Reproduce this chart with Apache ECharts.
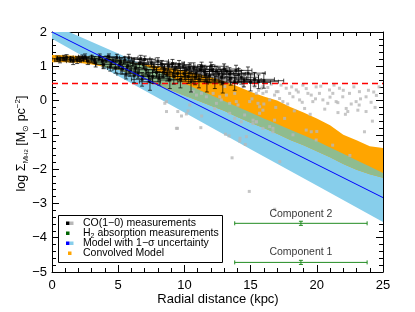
<!DOCTYPE html>
<html><head><meta charset="utf-8">
<script src="https://cdn.jsdelivr.net/npm/echarts@6/dist/echarts.min.js"></script>
<style>html,body{margin:0;padding:0;background:#fff}#c{width:415px;height:312px}</style>
</head><body><div id="c"></div><script>
const FONT = '"Liberation Sans", Arial, sans-serif';

// ---- data ----
const xRange = [0, 25];
const yRange = [-5, 2];
const xTickStep = 5;
const yTickStep = 1;

// model line
const modelX = [0, 25];
const modelY = [2.00, -2.83];

// model 1-sigma band
const bandX = [0, 5, 10, 15, 20, 25];
const bandUpper = [2.22, 1.37, 0.50, -0.35, -1.18, -2.11];
const bandLower = [1.80, 0.72, -0.35, -1.42, -2.48, -3.54];

// convolved model band
const convX = [0, 1, 2, 3, 4, 5, 6, 7, 8, 9, 10, 11, 12, 13, 14, 15, 16, 17, 18, 19, 20, 21, 22, 23, 24, 25];
const convTop = [1.33, 1.32, 1.30, 1.28, 1.25, 1.20, 1.12, 1.06, 1.00, 0.94, 0.88, 0.78, 0.68, 0.56, 0.42, 0.26, 0.12, 0.00, -0.19, -0.35, -0.52, -0.72, -1.00, -1.16, -1.33, -1.38];
const convBottom = [1.12, 1.12, 1.10, 1.05, 0.98, 0.90, 0.78, 0.62, 0.45, 0.30, 0.15, 0.00, -0.15, -0.30, -0.48, -0.65, -0.80, -0.97, -1.15, -1.30, -1.48, -1.65, -1.85, -2.02, -2.15, -2.25];

// overlap of model band and convolved model
const overlapX = [2.4, 3, 4, 5, 6, 7, 8, 9, 10, 11, 12, 13, 14, 15, 16, 17, 18, 19, 20, 21, 22, 23, 24, 25];
const overlapTop = [1.29, 1.28, 1.25, 1.20, 1.12, 1.02, 0.85, 0.67, 0.50, 0.33, 0.16, -0.01, -0.18, -0.35, -0.52, -0.68, -0.85, -1.01, -1.18, -1.37, -1.55, -1.74, -1.92, -2.11];
const overlapBottom = [1.28, 1.15, 0.98, 0.90, 0.78, 0.62, 0.45, 0.30, 0.15, 0.00, -0.15, -0.30, -0.48, -0.65, -0.80, -0.97, -1.15, -1.30, -1.48, -1.65, -1.85, -2.02, -2.15, -2.25];

// CO(1-0) measurements, grey
const grayX = [8.65, 9.50, 9.78, 10.15, 9.48, 11.24, 13.6, 14.9, 16.82, 17.2, 13.1, 13.37, 14.6, 14.2, 8.65, 10.28,
  13.17, 13.8, 14.43, 13.42, 14.05, 14.93, 15.43, 16.19, 16.44, 15.94, 16.94, 12.67, 12.17, 11.66, 11.29, 10.91, 12.42, 13.05,
  15.68, 15.18, 14.55, 14.3, 15.43, 16.44, 16.69, 14.68, 14.18, 10.41, 13.42, 13.8, 12.29, 8.52, 10.66, 12.79, 13.92,
  15.31, 15.81, 15.93, 15.56, 15.68, 15.93, 16.56, 16.81, 17.07, 17.19, 17.44, 17.69, 17.95, 18.2, 18.45, 18.7, 18.95,
  19.08, 19.33, 19.58, 19.7, 19.95, 20.2, 20.46, 20.83, 20.96, 21.21, 21.46, 21.71, 21.96, 22.22, 22.34, 22.47, 22.97,
  23.1, 23.22, 23.6, 23.72, 23.72, 19.58, 19.2, 16.81, 17.57, 16.69, 15.93, 15.43, 15.18,
  23.2, 24.1, 24.3, 22.16, 21.59, 19.95, 24.5, 24.2, 9.4, 11.3,
  15.1, 15.6, 16.0, 16.3, 16.9, 17.3, 17.8, 18.1, 18.3, 18.6, 18.9, 19.2, 19.5, 19.9, 20.3, 20.6, 21.0, 21.3, 21.6, 22.0,
  22.6, 22.8, 23.3, 23.9, 24.4, 24.7, 20.0, 21.2, 18.2, 22.5];
const grayY = [-0.32, -0.32, -0.45, -0.39, -0.81, -0.79, -1.67, -2.65, -3.17, -1.78, -0.98, -1.03, -1.28, -1.10, -0.03, -0.30,
  0.16, 0.21, 0.41, -0.08, -0.13, -0.03, 0.21, 0.26, 0.02, 0.41, 0.26, 0.11, 0.21, 0.11, 0.21, 0.16, -0.08, 0.41,
  -0.37, -0.57, -0.42, -0.62, -0.62, -0.76, -0.91, -1.05, -1.18, -0.13, -0.37, -0.52, -0.23, -0.08, 0.26, 0.02, -0.03,
  0.40, 0.36, 0.21, -0.08, -0.18, -0.28, 0.48, 0.16, 0.26, 0.06, -0.03, 0.36, 0.21, 0.11, 0.31, 0.02, 0.45,
  -0.23, 0.21, 0.16, -0.03, 0.40, 0.21, 0.02, -0.08, 0.31, 0.21, -0.03, 0.36, 0.11, -0.23, -0.32, 0.21, -0.03,
  -0.28, 0.26, -0.91, 0.11, -0.32, -0.91, -0.86, -0.57, -0.52, -0.81, -0.81, -0.62, -0.67,
  -0.13, -0.05, 0.25, -0.40, -0.06, -1.15, 0.15, -0.60, -0.81, -0.45,
  0.05, 0.30, -0.10, 0.38, -0.20, 0.45, -0.10, 0.40, -0.30, 0.25, -0.05, 0.35, -0.40, 0.05, 0.42, -0.25, 0.10, 0.45, -0.35, 0.30,
  -0.10, 0.40, 0.05, 0.30, -0.20, 0.40, -0.90, -1.30, -1.00, -1.60];

// CO(1-0) measurements, black with error bars
const coX = [0.4, 0.9, 1.4, 1.9, 2.3, 2.7, 3.0, 3.3, 3.6, 3.9, 4.1, 4.4, 4.6, 4.9, 5.1, 5.3, 5.5, 5.6, 5.7, 5.9, 6.1, 6.3, 6.5, 6.7, 6.8, 6.9,
  7.1, 7.3, 7.4, 7.5, 7.7, 7.9, 8.1, 8.3, 8.5, 8.7, 8.9, 9.1, 9.3, 9.5, 9.7, 9.9, 10.1, 10.3, 10.5, 10.7, 10.9, 11.1, 11.3, 11.5,
  11.7, 11.9, 12.1, 12.3, 12.6, 12.9, 13.2, 13.5, 13.8, 14.1, 14.5, 15.0, 15.6,
  0.6, 1.1, 1.6, 2.1, 2.5, 3.2, 3.8, 4.3, 4.8, 5.2, 5.8, 6.2, 6.6, 7.0, 7.6, 8.0, 8.4, 8.8, 9.2, 9.6, 10.0, 10.4, 10.8, 11.2, 11.6,
  12.0, 12.4, 12.8, 13.0, 13.4, 13.9, 14.3, 14.8, 15.3, 16.0];
const coY = [1.22, 1.24, 1.20, 1.18, 1.25, 1.15, 1.22, 1.10, 1.28, 1.05, 1.20, 0.98, 1.15, 1.25, 1.05, 0.92, 1.18, 0.78, 1.00, 0.86, 1.12, 0.95, 0.80, 1.22, 0.62, 1.05,
  0.90, 0.72, 0.55, 1.10, 0.98, 0.82, 0.65, 1.05, 0.90, 0.75, 0.60, 1.08, 0.95, 0.80, 0.62, 1.00, 0.88, 0.70, 0.55, 0.95, 0.80, 0.62, 1.00, 0.85,
  0.55, 0.72, 0.90, 0.60, 0.78, 0.52, 0.85, 0.65, 0.55, 0.75, 0.60, 0.53, 0.55,
  1.18, 1.26, 1.15, 1.22, 1.28, 1.18, 1.15, 1.28, 0.95, 1.12, 1.25, 0.72, 1.08, 1.20, 0.70, 1.15, 0.82, 1.00, 0.70, 1.05, 0.78, 0.95, 0.68, 0.90, 0.75,
  1.00, 0.85, 0.68, 0.92, 0.78, 0.88, 0.68, 0.80, 0.62, 0.58];
const coXErr = [0.4, 0.5, 0.5, 0.5, 0.5, 0.5, 0.6, 0.5, 0.6, 0.6, 0.6, 0.6, 0.6, 0.6, 0.7, 0.7, 0.7, 0.7, 0.7, 0.7, 0.7, 0.7, 0.7, 0.7, 0.8, 0.8,
  0.8, 0.8, 0.8, 0.8, 0.8, 0.8, 0.8, 0.8, 0.8, 0.8, 0.9, 0.9, 0.9, 0.9, 0.9, 0.9, 0.9, 1.0, 1.0, 1.0, 1.0, 1.0, 1.0, 1.0,
  1.0, 1.0, 1.0, 1.1, 1.1, 1.1, 1.1, 1.2, 1.2, 1.2, 1.3, 1.5, 1.5,
  0.4, 0.5, 0.5, 0.5, 0.5, 0.6, 0.6, 0.6, 0.6, 0.7, 0.7, 0.7, 0.7, 0.8, 0.8, 0.8, 0.8, 0.8, 0.9, 0.9, 0.9, 1.0, 1.0, 1.0, 1.0,
  1.0, 1.1, 1.1, 1.1, 1.2, 1.2, 1.3, 1.3, 1.5, 1.5];
const coYErr = [0.08, 0.08, 0.08, 0.10, 0.08, 0.10, 0.10, 0.12, 0.08, 0.12, 0.10, 0.12, 0.10, 0.10, 0.12, 0.15, 0.10, 0.15, 0.12, 0.15, 0.10, 0.12, 0.15, 0.10, 0.20, 0.12,
  0.15, 0.18, 0.25, 0.12, 0.12, 0.15, 0.20, 0.12, 0.15, 0.18, 0.25, 0.12, 0.15, 0.18, 0.25, 0.12, 0.15, 0.20, 0.30, 0.15, 0.18, 0.25, 0.12, 0.18,
  0.30, 0.20, 0.15, 0.25, 0.18, 0.30, 0.15, 0.20, 0.25, 0.18, 0.20, 0.25, 0.20,
  0.08, 0.08, 0.10, 0.08, 0.08, 0.10, 0.10, 0.08, 0.15, 0.10, 0.10, 0.20, 0.12, 0.10, 0.20, 0.10, 0.15, 0.12, 0.22, 0.12, 0.18, 0.15, 0.22, 0.15, 0.20,
  0.12, 0.15, 0.22, 0.15, 0.18, 0.15, 0.20, 0.18, 0.20, 0.22];

// detection threshold
const thresholdY = 0.5;

// H2 absorption components
const compNames = ['Component 1', 'Component 2'];
const compX = [18.8, 18.8];
const compY = [-4.72, -3.58];
const compXLo = [13.8, 13.8];
const compXHi = [23.8, 23.8];
const compYErr = [0.06, 0.06];
const compLabelY = [-4.42, -3.32];

// ---- chart ----
const chart = echarts.init(document.getElementById('c'), null, {renderer: 'canvas'});
const fmt = v => String(v).replace('-', '\u2212');

function bandSeries(xs, top, bot, color) {
  const data = xs.map((x, i) => [x, top[i], bot[i]]);
  return {
    type: 'custom', data, silent: true, clip: true, animation: false,
    encode: {x: 0, y: [1, 2]},
    renderItem(params, api) {
      if (params.dataIndex !== 0) return null;
      const pts = [];
      for (let i = 0; i < data.length; i++) pts.push(api.coord([data[i][0], data[i][1]]));
      for (let i = data.length - 1; i >= 0; i--) pts.push(api.coord([data[i][0], data[i][2]]));
      return {type: 'polygon', shape: {points: pts}, style: {fill: color}};
    }
  };
}

function errSeries(data, color, cap, lw) {
  return {
    type: 'custom', data, silent: true, clip: true, animation: false,
    encode: {x: 0, y: 1},
    renderItem(params, api) {
      const x = api.value(0), y = api.value(1), xl = api.value(2), xh = api.value(3), ye = api.value(4);
      const l = api.coord([xl, y]), r = api.coord([xh, y]);
      const t = api.coord([x, y + ye]), b = api.coord([x, y - ye]);
      const st = {stroke: color, lineWidth: lw};
      const L = (x1, y1, x2, y2) => ({type: 'line', shape: {x1, y1, x2, y2}, style: st});
      return {type: 'group', children: [
        L(l[0], l[1], r[0], r[1]),
        L(t[0], t[1], b[0], b[1]),
        L(l[0], l[1] - cap, l[0], l[1] + cap),
        L(r[0], r[1] - cap, r[0], r[1] + cap),
        L(t[0] - cap, t[1], t[0] + cap, t[1]),
        L(b[0] - cap, b[1], b[0] + cap, b[1])
      ]};
    }
  };
}

const coErrData = coX.map((x, i) => [x, coY[i], x - coXErr[i], x + coXErr[i], coYErr[i]]);
const compErrData = compX.map((x, i) => [x, compY[i], compXLo[i], compXHi[i], compYErr[i]]);

const axisCommon = {
  type: 'value',
  axisLine: {show: true, onZero: false, lineStyle: {color: '#000', width: 1}},
  axisTick: {show: true, inside: true, length: 7, lineStyle: {color: '#000', width: 1}},
  minorTick: {show: true, splitNumber: 5, length: 4, lineStyle: {color: '#000', width: 1}},
  splitLine: {show: false},
  minorSplitLine: {show: false}
};
const labelStyle = {color: '#000', fontSize: 13, fontFamily: FONT, formatter: fmt};

const option = {
  animation: false,
  backgroundColor: '#fff',
  grid: {left: 52, right: 32, top: 32, bottom: 40},
  xAxis: [
    Object.assign({}, axisCommon, {min: xRange[0], max: xRange[1], interval: xTickStep, position: 'bottom',
      axisLabel: Object.assign({margin: 7}, labelStyle)}),
    Object.assign({}, axisCommon, {min: xRange[0], max: xRange[1], interval: xTickStep, position: 'top',
      axisLabel: {show: false}})
  ],
  yAxis: [
    Object.assign({}, axisCommon, {min: yRange[0], max: yRange[1], interval: yTickStep, position: 'left',
      axisLabel: Object.assign({margin: 5}, labelStyle)}),
    Object.assign({}, axisCommon, {min: yRange[0], max: yRange[1], interval: yTickStep, position: 'right',
      axisLabel: {show: false}})
  ],
  series: [
    Object.assign(bandSeries(bandX, bandUpper, bandLower, '#87ceeb'), {z: 1}),
    Object.assign(bandSeries(convX, convTop, convBottom, '#ffa500'), {z: 2}),
    Object.assign(bandSeries(overlapX, overlapTop, overlapBottom, '#8fbc8f'), {z: 3}),
    {type: 'scatter', z: 4, silent: true, symbol: 'rect', symbolSize: 3,
      itemStyle: {color: '#b8b8b8'}, data: grayX.map((x, i) => [x, grayY[i]])},
    {type: 'line', z: 5, silent: true, symbol: 'none', data: [[xRange[0], thresholdY], [xRange[1], thresholdY]],
      lineStyle: {color: '#ff0000', width: 1.5, type: [6, 4]}},
    Object.assign(errSeries(coErrData, 'rgba(0,0,0,0.7)', 2, 1), {z: 6}),
    {type: 'scatter', z: 7, silent: true, symbol: 'rect', symbolSize: 3,
      itemStyle: {color: '#000'}, data: coX.map((x, i) => [x, coY[i]])},
    {type: 'line', z: 8, silent: true, symbol: 'none', data: modelX.map((x, i) => [x, modelY[i]]),
      lineStyle: {color: '#0000ff', width: 1}},
    Object.assign(errSeries(compErrData, '#228b22', 2, 1), {z: 9}),
    {type: 'scatter', z: 9, silent: true, symbolSize: 0,
      data: compX.map((x, i) => [x, compLabelY[i], compNames[i]]),
      label: {show: true, position: 'inside', formatter: p => p.value[2], color: '#000', fontSize: 10.5, fontFamily: FONT}}
  ],
  graphic: [
    {type: 'text', x: 21.5, y: 143.5, rotation: Math.PI / 2, z: 100,
      style: {
        text: '{n|log \u03a3}{s|M}{ss|H2}{n| [M}{s|\u2299}{n| pc}{p|\u22122}{n|]}',
        align: 'center', verticalAlign: 'middle', fill: '#000', font: '12px ' + FONT,
        rich: {
          n: {fontSize: 12.5, fontFamily: FONT, lineHeight: 16, verticalAlign: 'middle'},
          s: {fontSize: 8, fontFamily: FONT, lineHeight: 16, verticalAlign: 'bottom'},
          ss: {fontSize: 6, fontFamily: FONT, lineHeight: 16, verticalAlign: 'bottom'},
          p: {fontSize: 8, fontFamily: FONT, lineHeight: 16, verticalAlign: 'top'}
        }
      }},
    {type: 'text', x: 218, y: 299, z: 100,
      style: {text: 'Radial distance (kpc)', align: 'center', verticalAlign: 'middle', fill: '#000', font: '13px ' + FONT}},
    // legend
    {type: 'rect', z: 100, shape: {x: 58.5, y: 215.5, width: 164, height: 47},
      style: {fill: '#fff', stroke: '#000', lineWidth: 1}},
    {type: 'rect', z: 101, shape: {x: 66, y: 221.5, width: 3.5, height: 3.5}, style: {fill: '#000'}},
    {type: 'rect', z: 101, shape: {x: 70, y: 221.5, width: 3.5, height: 3.5}, style: {fill: '#b8b8b8'}},
    {type: 'rect', z: 101, shape: {x: 66, y: 231.5, width: 3.5, height: 3.5}, style: {fill: '#006400'}},
    {type: 'rect', z: 101, shape: {x: 66, y: 241.5, width: 3.5, height: 3.5}, style: {fill: '#0000ff'}},
    {type: 'rect', z: 101, shape: {x: 70, y: 241.5, width: 3.5, height: 3.5}, style: {fill: '#87ceeb'}},
    {type: 'rect', z: 101, shape: {x: 68, y: 251.5, width: 3.5, height: 3.5}, style: {fill: '#ffa500'}},
    {type: 'text', z: 101, x: 83, y: 223.3, style: {text: 'CO(1\u22120) measurements', verticalAlign: 'middle', fill: '#000', font: '10.5px ' + FONT}},
    {type: 'text', z: 101, x: 83, y: 233.3, style: {text: '{n|H}{s|2}{n| absorption measurements}', verticalAlign: 'middle', fill: '#000', font: '10.5px ' + FONT,
      rich: {n: {fontSize: 10.5, fontFamily: FONT, lineHeight: 12, verticalAlign: 'middle'}, s: {fontSize: 7, fontFamily: FONT, lineHeight: 12, verticalAlign: 'bottom'}}}},
    {type: 'text', z: 101, x: 83, y: 243.3, style: {text: 'Model with 1\u2212\u03c3 uncertainty', verticalAlign: 'middle', fill: '#000', font: '10.5px ' + FONT}},
    {type: 'text', z: 101, x: 83, y: 253.3, style: {text: 'Convolved Model', verticalAlign: 'middle', fill: '#000', font: '10.5px ' + FONT}}
  ]
};
chart.setOption(option);
</script></body></html>
